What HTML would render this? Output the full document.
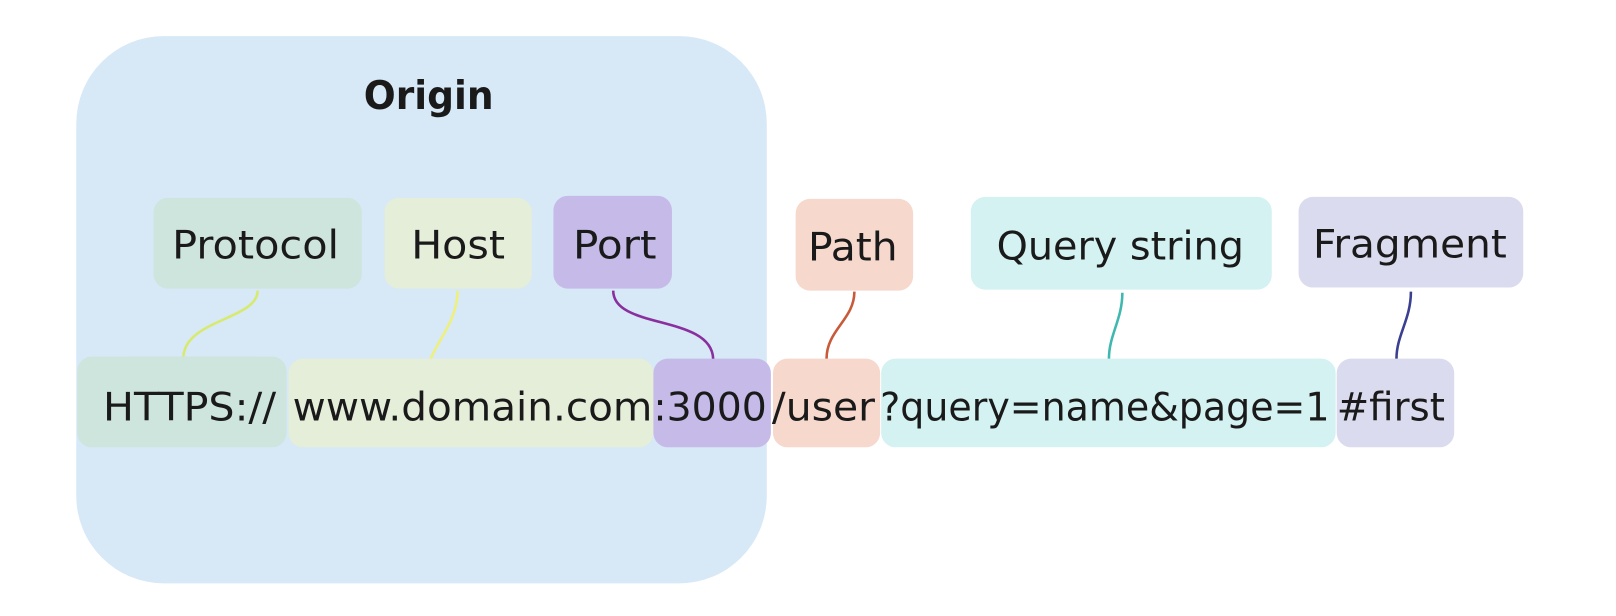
<!DOCTYPE html>
<html><head><meta charset="utf-8"><style>
html,body{margin:0;padding:0;background:#fff;width:1616px;height:616px;overflow:hidden}
text{font-family:"DejaVu Sans","Liberation Sans",sans-serif;fill:#1a1a1a}
</style></head><body>
<svg width="1616" height="616" viewBox="0 0 1568 597.7" preserveAspectRatio="none" xmlns="http://www.w3.org/2000/svg">
<rect x="74" y="35" width="670" height="531" rx="85" fill="#d7e8f7"/>
<text x="416" y="106" font-size="38" font-weight="bold" text-anchor="middle" textLength="126" lengthAdjust="spacingAndGlyphs">Origin</text>
<rect x="149" y="192" width="202" height="88" rx="14" fill="#cde5dc"/>
<rect x="373" y="192" width="143" height="88" rx="14" fill="#e4eed8"/>
<rect x="537" y="190" width="115" height="90" rx="14" fill="#c6bbe8"/>
<rect x="772" y="193" width="114" height="89" rx="14" fill="#f6d8cd"/>
<rect x="942" y="191" width="292" height="90" rx="14" fill="#d4f2f2"/>
<rect x="1260" y="191" width="218" height="88" rx="14" fill="#dadbee"/>
<text x="167" y="251" font-size="38" textLength="162" lengthAdjust="spacingAndGlyphs">Protocol</text>
<text x="399" y="251" font-size="38" textLength="91" lengthAdjust="spacingAndGlyphs">Host</text>
<text x="556" y="251" font-size="38" textLength="81" lengthAdjust="spacingAndGlyphs">Port</text>
<text x="784" y="253" font-size="38" textLength="87" lengthAdjust="spacingAndGlyphs">Path</text>
<text x="967" y="252" font-size="38" textLength="240" lengthAdjust="spacingAndGlyphs">Query string</text>
<text x="1274" y="250" font-size="38" textLength="188" lengthAdjust="spacingAndGlyphs">Fragment</text>
<rect x="75" y="346" width="203" height="88" rx="14" fill="#cde5dc"/>
<rect x="280" y="348" width="354" height="86" rx="14" fill="#e4eed8"/>
<rect x="634" y="348" width="114" height="86" rx="14" fill="#c6bbe8"/>
<rect x="750" y="348" width="104" height="86" rx="14" fill="#f6d8cd"/>
<rect x="855" y="348" width="441" height="86" rx="14" fill="#d4f2f2"/>
<rect x="1297" y="348" width="114" height="86" rx="14" fill="#dadbee"/>
<text x="100" y="408" font-size="38" textLength="168" lengthAdjust="spacingAndGlyphs">HTTPS://</text>
<text x="284" y="408" font-size="38" textLength="349" lengthAdjust="spacingAndGlyphs">www.domain.com</text>
<text x="634" y="408" font-size="38" textLength="110" lengthAdjust="spacingAndGlyphs">:3000</text>
<text x="749" y="408" font-size="38" textLength="100" lengthAdjust="spacingAndGlyphs">/user</text>
<text x="854" y="408" font-size="38" textLength="436" lengthAdjust="spacingAndGlyphs">?query=name&amp;page=1</text>
<text x="1297" y="408" font-size="38" textLength="105" lengthAdjust="spacingAndGlyphs">#first</text>
<g fill="none" stroke-width="2.5">
<path d="M250 282 C250 310 180 310 178 346" stroke="#d8ea6e"/>
<path d="M444 282 C444 310 425 330 418 348" stroke="#eef07e"/>
<path d="M595 282 C595 320 690 305 692 348" stroke="#8a2f9e"/>
<path d="M829 283 C829 310 802 320 802 348" stroke="#c85a3a"/>
<path d="M1089 284 C1089 310 1076 325 1076 348" stroke="#3fb8b0"/>
<path d="M1369 283 C1369 310 1355 325 1355 348" stroke="#3a3f90"/>
</g>
</svg>
</body></html>
